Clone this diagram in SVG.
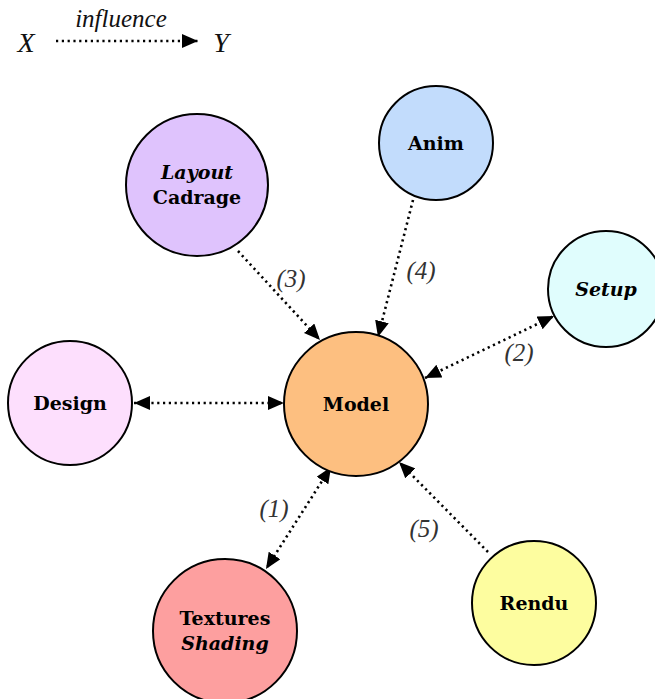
<svg xmlns="http://www.w3.org/2000/svg" width="655" height="699" viewBox="0 0 655 699">
<style>
.n{stroke:#000;stroke-width:2}
.t{font-family:"DejaVu Serif",serif;font-weight:bold;font-size:19px;fill:#000;text-anchor:middle}
.i{font-style:italic}
.e{fill:none;stroke:#000;stroke-width:2.6;stroke-dasharray:2.2 3.6}
.l{font-family:"Liberation Serif",serif;font-style:italic;font-size:25px;fill:#333;text-anchor:middle}
.g{font-family:"Liberation Serif",serif;font-style:italic;fill:#111;text-anchor:middle}
</style>
<defs>
<marker id="a" markerUnits="userSpaceOnUse" markerWidth="18" markerHeight="14" refX="16" refY="7" orient="auto-start-reverse" viewBox="0 0 18 14">
<path d="M0,0 L16,7 L0,14 Z" fill="#000"/>
</marker>
</defs>
<rect width="655" height="699" fill="#fff"/>
<g id="legend">
<text x="26" y="52" class="g" style="font-size:28px">X</text>
<text x="121" y="27" class="g" style="font-size:25px">influence</text>
<line x1="56" y1="41" x2="198" y2="41" class="e" marker-end="url(#a)"/>
<text x="221" y="52" class="g" style="font-size:28px">Y</text>
</g>
<g id="edges">
<line x1="238" y1="251" x2="320" y2="340" class="e" marker-end="url(#a)"/>
<line x1="413" y1="200" x2="378" y2="337" class="e" marker-end="url(#a)"/>
<line x1="425" y1="378" x2="554" y2="316" class="e" marker-start="url(#a)" marker-end="url(#a)"/>
<line x1="134" y1="403" x2="284" y2="403" class="e" marker-start="url(#a)" marker-end="url(#a)"/>
<line x1="331" y1="467" x2="266" y2="569" class="e" marker-start="url(#a)" marker-end="url(#a)"/>
<line x1="488" y1="552" x2="399" y2="462" class="e" marker-end="url(#a)"/>
<text x="291" y="287" class="l">(3)</text>
<text x="421" y="279" class="l">(4)</text>
<text x="519" y="361" class="l">(2)</text>
<text x="274" y="517" class="l">(1)</text>
<text x="424" y="537" class="l">(5)</text>
</g>
<g id="layout">
<circle cx="197" cy="185" r="71" fill="#dfc3fd" class="n"/>
<text x="197" y="179" class="t i">Layout</text>
<text x="197" y="204" class="t">Cadrage</text>
</g>
<g id="anim">
<circle cx="436" cy="143" r="57" fill="#c2dcfc" class="n"/>
<text x="436" y="150" class="t">Anim</text>
</g>
<g id="setup">
<circle cx="606" cy="289" r="58" fill="#e0fdfd" class="n"/>
<text x="606" y="296" class="t i">Setup</text>
</g>
<g id="design">
<circle cx="70" cy="403" r="62" fill="#fddffd" class="n"/>
<text x="70" y="410" class="t">Design</text>
</g>
<g id="model">
<circle cx="356" cy="404" r="72" fill="#fdbf80" class="n"/>
<text x="356" y="411" class="t">Model</text>
</g>
<g id="textures">
<circle cx="225" cy="631" r="72" fill="#fd9f9f" class="n"/>
<text x="225" y="625" class="t">Textures</text>
<text x="225" y="650" class="t i">Shading</text>
</g>
<g id="rendu">
<circle cx="534" cy="603" r="62" fill="#fdfd9f" class="n"/>
<text x="534" y="610" class="t">Rendu</text>
</g>
</svg>
